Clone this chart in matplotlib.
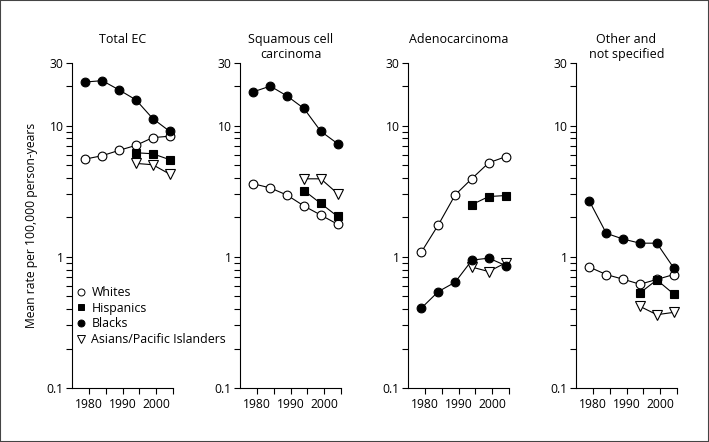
import matplotlib
matplotlib.use("Agg")
import matplotlib.pyplot as plt
from matplotlib.ticker import FixedLocator, NullFormatter
from matplotlib.lines import Line2D
from matplotlib.patches import Rectangle

plt.rcParams['font.family'] = ['Open Sans', 'DejaVu Sans']

years_all = [1979, 1984, 1989, 1994, 1999, 2004]
years_late = [1994, 1999, 2004]

titles = ["Total EC", "Squamous cell\ncarcinoma", "Adenocarcinoma", "Other and\nnot specified"]

whites = [
    [5.56, 5.9, 6.48, 7.07, 8.1, 8.3],
    [3.6, 3.35, 2.95, 2.44, 2.08, 1.77],
    [1.09, 1.75, 2.96, 3.95, 5.21, 5.79],
    [0.834, 0.732, 0.675, 0.618, 0.672, 0.732],
]
hispanics = [
    [6.21, 6.1, 5.5],
    [3.2, 2.55, 2.03],
    [2.5, 2.88, 2.93],
    [0.53, 0.667, 0.521],
]
blacks = [
    [21.5, 22.0, 18.7, 15.7, 11.3, 9.05],
    [18.1, 20.0, 16.8, 13.5, 9.05, 7.28],
    [0.407, 0.543, 0.64, 0.943, 0.977, 0.858],
    [2.65, 1.51, 1.365, 1.27, 1.27, 0.824],
]
asians = [
    [5.15, 5.03, 4.27],
    [3.93, 3.93, 3.03],
    [0.834, 0.772, 0.9],
    [0.419, 0.362, 0.377],
]

yticks = [0.1, 1, 10, 30]
ytick_labels = ["0.1", "1", "10", "30"]
xticks = [1980, 1990, 2000]
xtick_labels = ["1980", "1990", "2000"]
legend_labels = ["Whites", "Hispanics", "Blacks", "Asians/Pacific Islanders"]

fig = plt.figure(figsize=(7.09, 4.42), dpi=100)
W, H = 709, 442
lefts = [72, 240, 408, 576]
ax_w = 101
top_px, bot_px = 63, 388

fs = 8.7
for i in range(4):
    ax = fig.add_axes([lefts[i] / W, (H - bot_px) / H, ax_w / W, (bot_px - top_px) / H])
    ax.set_yscale('log')
    ax.set_ylim(0.1, 30)
    ax.set_xlim(1975, 2005)
    kw = dict(color='black', lw=0.8, markeredgecolor='black', markeredgewidth=0.8, clip_on=False)
    ax.plot(years_all, whites[i], marker='o', ms=6.3, markerfacecolor='white', zorder=3, **kw)
    ax.plot(years_late, asians[i], marker='v', ms=6.8, markerfacecolor='white', zorder=4, **kw)
    ax.plot(years_late, hispanics[i], marker='s', ms=5.8, markerfacecolor='black', zorder=5, **kw)
    ax.plot(years_all, blacks[i], marker='o', ms=6.3, markerfacecolor='black', zorder=6, **kw)
    for s in ['top', 'right']:
        ax.spines[s].set_visible(False)
    for s in ['left', 'bottom']:
        ax.spines[s].set_linewidth(0.8)
    ax.yaxis.set_major_locator(FixedLocator(yticks))
    ax.set_yticklabels(ytick_labels)
    minor = [v * m for v in [0.1, 1] for m in range(2, 10)] + [20]
    ax.yaxis.set_minor_locator(FixedLocator(minor))
    ax.yaxis.set_minor_formatter(NullFormatter())
    ax.xaxis.set_major_locator(FixedLocator(xticks))
    ax.set_xticklabels(xtick_labels)
    ax.xaxis.set_minor_locator(FixedLocator([1985, 1995, 2005]))
    ax.tick_params(axis='both', which='both', direction='out', length=4, width=0.8,
                   labelsize=fs, colors='black', pad=2)
    ax.tick_params(axis='x', which='both', pad=3)
    cx = (lefts[i] + ax_w / 2) / W
    fig.text(cx, 1 - 33 / H, titles[i], ha='center', va='top', fontsize=fs + 0.3,
             linespacing=1.2)
    if i == 0:
        ax.set_ylabel("Mean rate per 100,000 person-years", fontsize=fs, labelpad=6)

ax0 = fig.axes[0]
handles = [
    Line2D([], [], ls='none', marker='o', ms=5, mfc='white', mec='black', mew=0.7),
    Line2D([], [], ls='none', marker='s', ms=5, mfc='black', mec='black', mew=0.7),
    Line2D([], [], ls='none', marker='o', ms=5, mfc='black', mec='black', mew=0.7),
    Line2D([], [], ls='none', marker='v', ms=5.5, mfc='white', mec='black', mew=0.7),
]
ax0.legend(handles, legend_labels, loc='upper left', bbox_to_anchor=(76 / W, (H - 286) / H),
           bbox_transform=fig.transFigure, frameon=False, fontsize=fs + 0.2,
           handlelength=0.8, handletextpad=0.45, labelspacing=0.22, borderpad=0,
           borderaxespad=0)

fig.patches.append(Rectangle((0, 0), 1, 1, transform=fig.transFigure, fill=False,
                             edgecolor='#444444', lw=1.5, zorder=10))

fig.savefig("out.png", dpi=100)
